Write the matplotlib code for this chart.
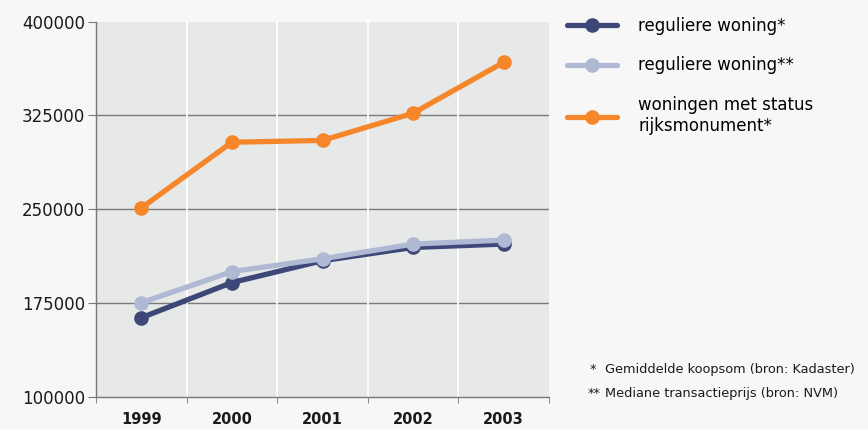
import matplotlib
matplotlib.use('Agg')
import matplotlib.pyplot as plt

years = ['1999', '2000', '2001', '2002', '2003']
regulier_kadaster = [163200, 191300, 208800, 219400, 222100]
regulier_nvm = [175200, 200100, 210300, 222100, 225300]
rijksmonument = [251000, 303600, 305000, 326800, 367500]

labels = ['reguliere woning*', 'reguliere woning**', 'woningen met status\nrijksmonument*']
colors = ['#3e4878', '#afb9d3', '#f5862a']
y_ticks = [100000, 175000, 250000, 325000, 400000]

fig = plt.figure(figsize=(8.68, 4.29), dpi=100, facecolor='#f7f7f7')
ax = fig.add_axes([96 / 868, 1 - 396.7 / 429, 453 / 868, 375 / 429])
ax.set_facecolor('#e7e8e8')

x = list(range(len(years)))
for vals, lab, col in zip([regulier_kadaster, regulier_nvm, rijksmonument], labels, colors):
    ax.plot(x, vals, color=col, lw=3.8, marker='o', ms=9.5, label=lab, zorder=3,
            solid_capstyle='round')

ax.set_xlim(-0.5, 4.5)
ax.set_ylim(100000, 400000)
ax.set_yticks(y_ticks)
ax.set_yticklabels([str(v) for v in y_ticks], fontsize=12, color='#1a1a1a')

# category labels in the middle, tick marks on the bin edges
ax.set_xticks(x)
ax.set_xticklabels(years, fontsize=10.5, fontweight='bold', color='#1a1a1a')
ax.tick_params(axis='x', length=0, pad=11)
ax.set_xticks([i - 0.5 for i in range(len(years) + 1)], minor=True)
ax.tick_params(axis='x', which='minor', length=4, color='#777777')
ax.tick_params(axis='y', length=6, color='#777777', pad=2)

for v in y_ticks[1:-1]:
    ax.axhline(v, color='#7a7a7a', lw=1, zorder=1)
for b in [i + 0.5 for i in range(len(years) - 1)]:
    ax.axvline(b, color='white', lw=1.3, zorder=1)

for s in ['top', 'right']:
    ax.spines[s].set_visible(False)
for s in ['left', 'bottom']:
    ax.spines[s].set_color('#777777')
    ax.spines[s].set_linewidth(1)

fig.legend(loc='upper left', bbox_to_anchor=(560 / 868, 1 - 10 / 429), frameon=False,
           fontsize=12, handlelength=3.0, handletextpad=1.3, labelspacing=1.3,
           borderaxespad=0)

fig.text(590 / 868, 1 - 370 / 429, '*', fontsize=9.3, va='center', color='#1a1a1a')
fig.text(605 / 868, 1 - 370 / 429, 'Gemiddelde koopsom (bron: Kadaster)', fontsize=9.3,
         va='center', color='#1a1a1a')
fig.text(588 / 868, 1 - 393 / 429, '**', fontsize=9.3, va='center', color='#1a1a1a')
fig.text(605 / 868, 1 - 393 / 429, 'Mediane transactieprijs (bron: NVM)', fontsize=9.3,
         va='center', color='#1a1a1a')

fig.savefig('out.png', dpi=100, facecolor=fig.get_facecolor())
